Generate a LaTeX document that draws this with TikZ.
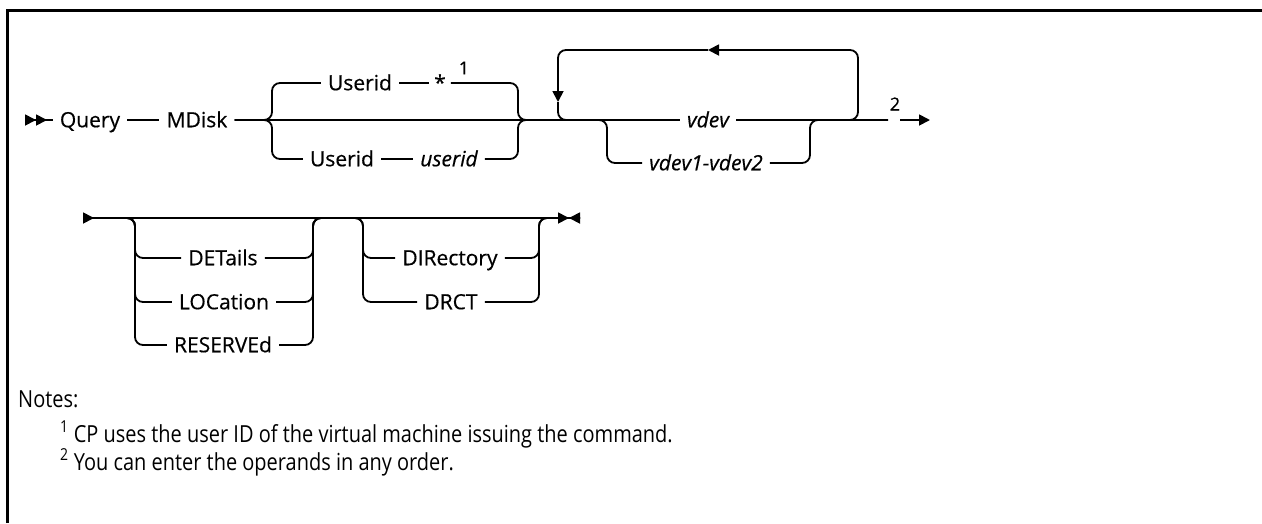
\documentclass[tikz,border=0pt]{standalone}
\usepackage{fontspec}
\setmainfont{Open Sans}
\newfontfamily\railfont[FakeBold=0.5]{Open Sans}
\newfontfamily\notefont[FakeStretch=0.85]{Open Sans}
\usetikzlibrary{arrows.meta,positioning}
\tikzset{
  rt/.tip={Triangle[length=11pt, width=11pt]},
  rtr/.tip={Triangle[length=11pt, width=11pt, reversed]},
}

\begin{document}
\begin{tikzpicture}[
  x=1pt, y=-1pt,
  kw/.style={font=\fontsize{21}{24}\selectfont\railfont, inner xsep=7pt, inner ysep=0pt, text height=14.5pt, text depth=0pt},
  var/.style={kw, font=\fontsize{21}{24}\selectfont\railfont\itshape},
  supn/.style={font=\fontsize{18}{20}\selectfont\railfont, inner sep=0pt},
  note/.style={font=\fontsize{23.5}{27}\selectfont\notefont, inner sep=0pt, anchor=base west},
  rail/.style={line width=1.8pt, rounded corners=8pt},
]
\useasboundingbox (0,0) rectangle (1262,523);
\draw[line width=3pt] (7,523) -- (7,10) -- (1262,10);

% first line
\coordinate (beg) at (25,120);
\node[kw] (query) at (90,120) {Query};
\node[kw] (mdisk) at (197,120) {MDisk};
\node[kw] (uid1) at (360,83) {Userid};
\node[kw, inner xsep=5pt] (star) at (440,83) {*};
\node[supn] (fn1) at (464,68) {1};
\node[kw] (uid2) at (342,159) {Userid};
\node[var] (uidv) at (449,159) {userid};
\node[var] (vdev) at (708,120) {vdev};
\node[var] (vrange) at (706,163) {vdev1-vdev2};
\node[supn] (fn2) at (895,104) {2};

\coordinate (ch1L) at (272,120);
\coordinate (ch1R) at (518,120);
\coordinate (rpL) at (607,120);
\coordinate (rpR) at (810,120);
\coordinate (lpTR) at (858,50);
\coordinate (lpMid) at (708,50);
\coordinate (lpTL) at (558,50);
\coordinate (lpDn) at (558,102);
\coordinate (brk1) at (888,120);
\coordinate (res1) at (900,120);
\coordinate (out1) at (930,120);

\draw[rail, {rtr[]rtr[]}-] (beg) -- (query);
\draw[rail] (query) -- (mdisk);
\draw[rail] (mdisk) -- (vdev);
\draw[rail] (mdisk.east) -- (ch1L) |- (uid1.west);
\draw[rail] (uid1) -- (star);
\draw[rail] (star.east) -| (ch1R) -- (rpL);
\draw[rail] (mdisk.east) -- (ch1L) |- (uid2.west);
\draw[rail] (uid2) -- (uidv);
\draw[rail] (uidv.east) -| (ch1R) -- (rpL);
% repeat loop
\draw[rail, -{rt[]}] (vdev.east) -| (lpTR) -- (lpMid);
\draw[rail, -{rt[]}] (lpMid) -- (lpTL) -- (lpDn);
\draw[rail] (lpDn) |- (vdev.west);
\draw[rail] (ch1R) -- (rpL) |- (vrange.west);
\draw[rail] (vrange.east) -| (rpR) -- (brk1);
\draw[rail] (vdev) -- (brk1);
\draw[rail, -{rt[]}] (res1) -- (out1);

% second line
\coordinate (cont2) at (83,218);
\coordinate (o1L) at (135,218);
\coordinate (o1R) at (313,218);
\coordinate (o2L) at (363,218);
\coordinate (o2R) at (539,218);
\coordinate (stop) at (580,218);
\node[kw] (det) at (223,258) {DETails};
\node[kw] (loc) at (224,302) {LOCation};
\node[kw] (rsv) at (223,345) {RESERVEd};
\node[kw] (dir) at (450,258) {DIRectory};
\node[kw] (drct) at (451,302) {DRCT};

\draw[rail, {rtr[]}-{rt[]rtr[]}] (cont2) -- (stop);
\foreach \n in {det,loc,rsv} {
  \draw[rail] (cont2) -- (o1L) |- (\n.west);
  \draw[rail] (\n.east) -| (o1R) -- (o2L);
}
\foreach \n in {dir,drct} {
  \draw[rail] (o1R) -- (o2L) |- (\n.west);
  \draw[rail] (\n.east) -| (o2R) -- (stop);
}

% notes
\node[note] (notes) at (18,407) {Notes:};
\node[note] (note1) at (60,442) {\textsuperscript{1} CP uses the user ID of the virtual machine issuing the command.};
\node[note] (note2) at (60,470) {\textsuperscript{2} You can enter the operands in any order.};
\end{tikzpicture}
\end{document}
